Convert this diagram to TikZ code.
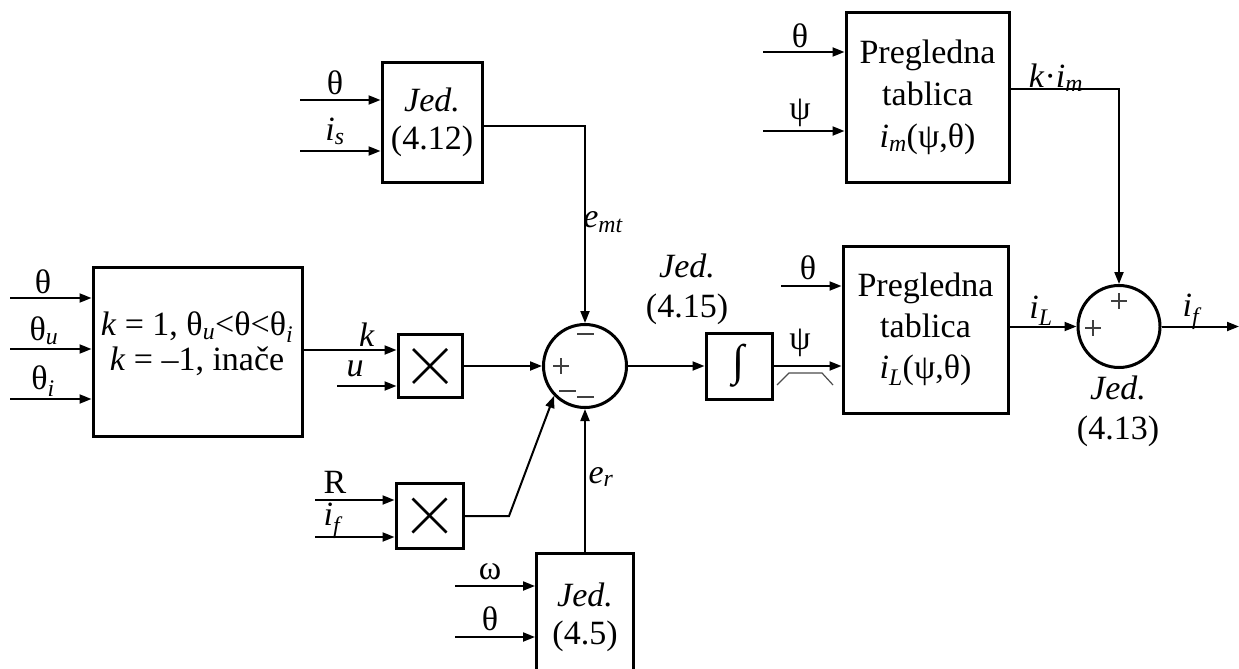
\documentclass[tikz,border=0pt]{standalone}
\usepackage{fontspec}
\setmainfont{Liberation Serif}
\usetikzlibrary{arrows.meta}
\newcommand{\sbs}[1]{\textsubscript{\itshape #1}}
\begin{document}
\begin{tikzpicture}[x=1pt,y=-1pt,
  font=\fontsize{34}{40}\selectfont,
  blk/.style 2 args={draw, line width=3pt, minimum width=#1, minimum height=#2, inner sep=0pt, align=center},
  sumc/.style={draw, circle, line width=3pt, inner sep=0pt, minimum size=#1},
  arr/.style={line width=2pt, -{Triangle[length=12pt,width=9pt]}},
  ln/.style={line width=2pt},
  lbl/.style={inner sep=0pt},
  sgn/.style={line width=1.3pt, draw=black!75},
  cross/.style={line width=2.5pt}
]
\useasboundingbox (0,0) rectangle (1239,669);

% blocks
\node[blk={209pt}{169pt}] (L) at (197.5,351.5) {};
\node[lbl, align=center, font=\fontsize{34}{35}\selectfont] (Lt) at (197,344)
  {\textit{k} = 1, θ\sbs{u}<θ<θ\sbs{i}\\\textit{k} = –1, inače};
\node[blk={64pt}{63pt}] (M1) at (430,366) {};
\node[blk={67pt}{65pt}] (M2) at (429.5,515.5) {};
\node[blk={100pt}{119pt}, font=\fontsize{34}{38}\selectfont] (J12) at (432,122.5) {\textit{Jed.}\\(4.12)};
\node[blk={97pt}{128pt}, font=\fontsize{34}{38}\selectfont] (J5) at (585,617) {\textit{Jed.}\\(4.5)};
\node[sumc=83pt] (S1) at (585,366) {};
\node[blk={66pt}{66pt}, font=\fontsize{44}{44}\selectfont] (I) at (739,366) {∫};
\node[blk={163pt}{169pt}, font=\fontsize{34}{42}\selectfont] (T1) at (927.5,97.5) {Pregledna\\tablica\\\textit{i}\sbs{m}(ψ,θ)};
\node[blk={165pt}{167pt}, font=\fontsize{34}{41}\selectfont] (T2) at (925.5,329.5) {Pregledna\\tablica\\\textit{i}\sbs{L}(ψ,θ)};
\node[sumc=82pt] (S2) at (1119,326.5) {};

% multiply crosses
\draw[cross] ([shift={(-17,-17)}]M1.center) -- ([shift={(17,17)}]M1.center);
\draw[cross] ([shift={(-17,17)}]M1.center) -- ([shift={(17,-17)}]M1.center);
\draw[cross] ([shift={(-17,-17)}]M2.center) -- ([shift={(17,17)}]M2.center);
\draw[cross] ([shift={(-17,17)}]M2.center) -- ([shift={(17,-17)}]M2.center);

% inputs of L
\coordinate (a1) at (10,298);
\coordinate (a2) at (10,349);
\coordinate (a3) at (10,399);
\draw[arr] (a1) -- (a1 -| L.west);
\draw[arr] (a2) -- (a2 -| L.west);
\draw[arr] (a3) -- (a3 -| L.west);
\node[lbl] (la1) at (43,282) {θ};
\node[lbl] (la2) at (44,331) {θ\sbs{u}};
\node[lbl] (la3) at (43,381) {θ\sbs{i}};

% L -> M1, u -> M1
\draw[arr] (L.east |- 0,350) -- (M1.west |- 0,350);
\coordinate (u0) at (337,386);
\draw[arr] (u0) -- (u0 -| M1.west);
\node[lbl] (lk) at (367,335) {\textit{k}};
\node[lbl] (lu) at (355,369) {\textit{u}};

% J12 inputs
\coordinate (b1) at (300,100);
\coordinate (b2) at (300,151);
\draw[arr] (b1) -- (b1 -| J12.west);
\draw[arr] (b2) -- (b2 -| J12.west);
\node[lbl] (lb1) at (335,83) {θ};
\node[lbl] (lb2) at (335,131) {\textit{i}\sbs{s}};

% M2 inputs
\coordinate (c1) at (315,500);
\coordinate (c2) at (315,537);
\draw[arr] (c1) -- (c1 -| M2.west);
\draw[arr] (c2) -- (c2 -| M2.west);
\node[lbl] (lc1) at (335,482) {R};
\node[lbl] (lc2) at (332,521) {\textit{i}\sbs{f}};

% J5 inputs
\coordinate (d1) at (455,586);
\coordinate (d2) at (455,637);
\draw[arr] (d1) -- (d1 -| J5.west);
\draw[arr] (d2) -- (d2 -| J5.west);
\node[lbl] (ld1) at (490,572) {ω};
\node[lbl] (ld2) at (490,619) {θ};

% into S1
\draw[arr] (M1.east) -- (S1.west);
\draw[arr] (J12.east |- 0,126) -| (S1.north);
\coordinate (m2k) at (509,516);
\draw[arr] (M2.east |- m2k) -- (m2k) -- (S1.224);
\draw[arr] (J5.north) -- (S1.south);
\node[lbl] (lemt) at (603,222) {\textit{e}\sbs{mt}};
\node[lbl] (ler) at (601,477) {\textit{e}\sbs{r}};

% signs S1
\draw[sgn] (577,334) -- (594,334);
\draw[sgn] (553,366) -- (569,366);
\draw[sgn] (561,358) -- (561,374);
\draw[sgn] (559,391) -- (576,391);
\draw[sgn] (577,397) -- (594,397);

% S1 -> I -> T2
\draw[arr] (S1.east) -- (I.west);
\node[lbl, align=center, font=\fontsize{34}{40}\selectfont] (l415) at (687,289) {\textit{Jed.}\\(4.15)};
\draw[arr] (I.east) -- (I.east -| T2.west);
\node[lbl] (lpsi) at (800,343) {ψ};
\draw[line width=1.2pt, black!70] (777,385) -- (789,373) -- (822,373) -- (833,385);
\coordinate (e1) at (781,286);
\draw[arr] (e1) -- (e1 -| T2.west);
\node[lbl] (le1) at (808,268) {θ};

% T1 inputs
\coordinate (f1) at (763,52);
\coordinate (f2) at (763,131);
\draw[arr] (f1) -- (f1 -| T1.west);
\draw[arr] (f2) -- (f2 -| T1.west);
\node[lbl] (lf1) at (800,36) {θ};
\node[lbl] (lf2) at (800,113) {ψ};

% into S2
\draw[arr] (T1.east |- 0,89) -| (S2.north);
\node[lbl] (lkim) at (1056,78) {\textit{k}·\textit{i}\sbs{m}};
\draw[arr] (T2.east |- S2.west) -- (S2.west);
\node[lbl] (liL) at (1041,311) {\textit{i}\sbs{L}};
\draw[sgn] (1111,301) -- (1127,301);
\draw[sgn] (1119,293) -- (1119,309);
\draw[sgn] (1085,328) -- (1101,328);
\draw[sgn] (1093,320) -- (1093,336);
\coordinate (out) at (1239,326.5);
\draw[arr] (S2.east) -- (out);
\node[lbl] (lif) at (1191,312) {\textit{i}\sbs{f}};
\node[lbl, align=center, font=\fontsize{34}{40}\selectfont] (l413) at (1118,411) {\textit{Jed.}\\(4.13)};
\end{tikzpicture}
\end{document}
